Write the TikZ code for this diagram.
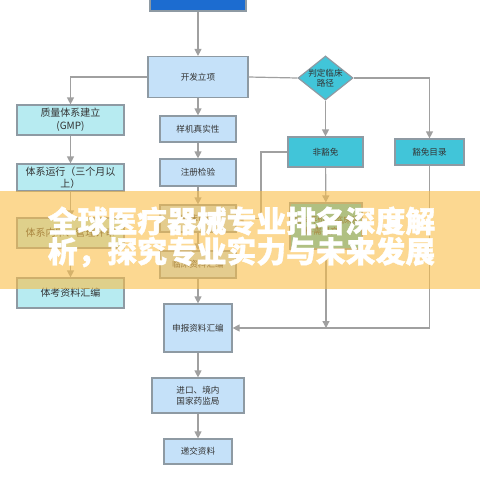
\documentclass[tikz,border=0pt]{standalone}
\usepackage{fontspec}
\newfontfamily\cjk{Noto Sans CJK SC}
\newfontfamily\cjkban[BoldFeatures={FakeBold=1.2}]{Noto Sans CJK SC}
\usetikzlibrary{arrows.meta,shapes.geometric}
\definecolor{topblue}{HTML}{1C6CD0}
\definecolor{lblue}{HTML}{C5E1F9}
\definecolor{lcyan}{HTML}{B7EBF1}
\definecolor{teal}{HTML}{41C5D9}
\definecolor{bord}{HTML}{8E9AA3}
\definecolor{arrgray}{HTML}{A0A0A0}
\definecolor{banner}{HTML}{FABE48}
\definecolor{txt}{HTML}{333333}
\begin{document}
\begin{tikzpicture}[x=0.75pt,y=-0.75pt,
  box/.style={draw=bord,line width=0.9pt,rectangle,inner sep=0pt,align=center,text=txt,
    font=\cjk\fontsize{6.45}{8.2}\selectfont},
  cbox/.style={box,fill=lblue},
  lbox/.style={box,fill=lcyan,font=\cjk\fontsize{7.5}{9.4}\selectfont},
  tbox/.style={box,fill=teal},
  sz/.style 2 args={minimum width={#1*0.75pt},minimum height={#2*0.75pt}},
  arr/.style={draw=arrgray,line width=0.9pt,-{Triangle[length=5.2pt,width=5.2pt]}},
  ln/.style={draw=arrgray,line width=0.9pt},
  bantext/.style={text=white,inner sep=0pt,font=\cjkban\bfseries\fontsize{22.35}{24}\selectfont}
]
\useasboundingbox (0,0) rectangle (480,480);
\fill[white] (0,0) rectangle (480,480);
% nodes
\node[box,fill=topblue,sz={96}{41}] (top) at (198,-9.5) {};
\node[cbox,sz={100}{41}] (kaifa) at (198,77) {开发立项};
\node[tbox,diamond,draw=bord,sz={55}{44}] (dia) at (325.5,78) {};
\node[text=txt,align=center,inner sep=0pt,font=\cjk\fontsize{6.45}{7.6}\selectfont] (diat) at (dia) {判定临床\\路径};
\node[lbox,sz={107}{30}] (gmp) at (70.5,120) {质量体系建立\\(GMP)};
\node[lbox,sz={107}{27}] (run) at (70.5,177.5) {体系运行（三个月以\\上）};
\node[lbox,sz={107}{30}] (audit) at (70.5,233) {体系内审、管理评审};
\node[lbox,sz={107}{30}] (compile) at (70.5,293) {体考资料汇编};
\node[cbox,sz={76}{26}] (yangji) at (198,129) {样机真实性};
\node[cbox,sz={76}{27}] (zhuce) at (198,172.5) {注册检验};
\node[cbox,sz={76}{27}] (lcsy) at (198,218.5) {临床试验};
\node[cbox,sz={76}{27}] (lczl) at (198,264.5) {临床资料汇编};
\node[cbox,sz={68}{48}] (shenbao) at (198,328) {申报资料汇编};
\node[cbox,sz={92}{35}] (jinkou) at (198,395.5) {进口、境内\\国家药监局};
\node[cbox,sz={68}{25}] (dijiao) at (198,451.5) {递交资料};
\node[tbox,sz={75}{30}] (nonex) at (325.5,152) {非豁免};
\node[tbox,sz={69}{26}] (exempt) at (429.5,152) {豁免目录};
\node[tbox,sz={72}{46}] (clin) at (326,226) {临床评价（临床资\\料需提交）};
\coordinate (k1) at (261,152);
\coordinate (m1) at (326,328);
% connectors
\draw[arr] (top) -- (kaifa);
\draw[arr] (kaifa.west) -| (gmp.north);
\draw[ln] (kaifa.east) -- (dia.west);
\draw[arr] (dia.east) -| (exempt.north);
\draw[arr] (dia.south) -- (nonex.north);
\draw[arr] (gmp) -- (run);
\draw[arr] (run) -- (audit);
\draw[arr] (audit) -- (compile);
\draw[arr] (kaifa) -- (yangji);
\draw[arr] (yangji) -- (zhuce);
\draw[arr] (zhuce) -- (lcsy);
\draw[arr] (lcsy) -- (lczl);
\draw[arr] (lczl) -- (shenbao);
\draw[arr] (shenbao) -- (jinkou);
\draw[arr] (jinkou) -- (dijiao);
\draw[arr] (nonex.west) -- (k1) |- (lcsy.east);
\draw[arr] (nonex) -- (clin);
\draw[arr] (clin.south) -- (m1);
\draw[arr] (exempt.south) |- (shenbao.east);
% banner overlay
\fill[banner,opacity=0.6] (0,191) rectangle (480,289);
\node[bantext] (b1) at (241.5,221) {全球医疗器械专业排名深度解};
\node[bantext] (b2) at (241.5,252) {析，探究专业实力与未来发展};
\end{tikzpicture}
\end{document}
